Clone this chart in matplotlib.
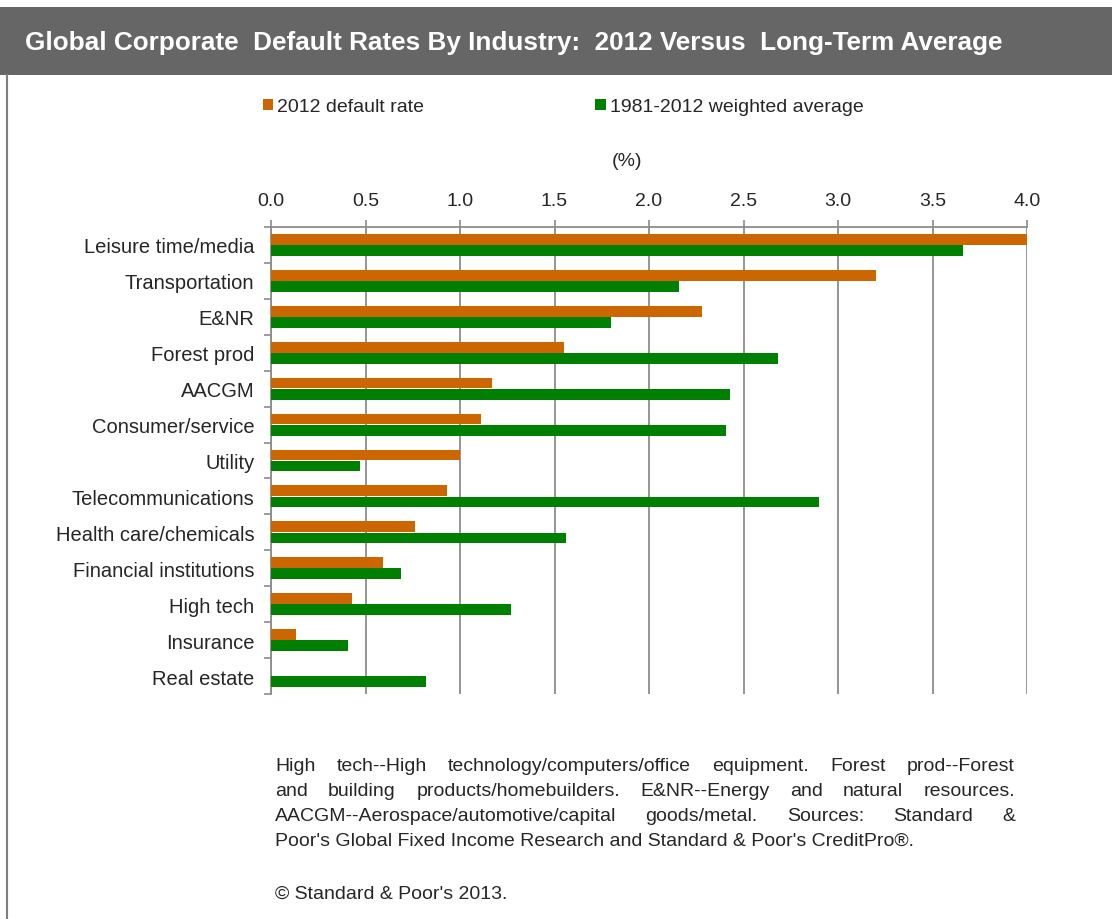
import numpy as np
import matplotlib
matplotlib.use("Agg")
import matplotlib.pyplot as plt
from matplotlib.patches import Rectangle
from matplotlib.lines import Line2D

plt.rcParams['font.family'] = ['Liberation Sans', 'DejaVu Sans']

# data
industries = ['Leisure time/media', 'Transportation', 'E&NR', 'Forest prod', 'AACGM',
              'Consumer/service', 'Utility', 'Telecommunications', 'Health care/chemicals',
              'Financial institutions', 'High tech', 'Insurance', 'Real estate']
rate_2012 = [4.00, 3.20, 2.28, 1.55, 1.17, 1.11, 1.00, 0.93, 0.76, 0.59, 0.43, 0.13, 0.0]
avg_1981_2012 = [3.66, 2.16, 1.80, 2.68, 2.43, 2.41, 0.47, 2.90, 1.56, 0.69, 1.27, 0.41, 0.82]
x_ticks = [0.0, 0.5, 1.0, 1.5, 2.0, 2.5, 3.0, 3.5, 4.0]

title = 'Global Corporate  Default Rates By Industry:  2012 Versus  Long-Term Average'
foot_lines = [
    "High tech--High technology/computers/office equipment. Forest prod--Forest",
    "and building products/homebuilders. E&NR--Energy and natural resources.",
    "AACGM--Aerospace/automotive/capital goods/metal. Sources: Standard &",
    "Poor's Global Fixed Income Research and Standard & Poor's CreditPro\u00ae.",
]

ORANGE = '#CC6600'
GREEN = '#008000'
TXT = '#262626'
W, H = 1112, 920

fig = plt.figure(figsize=(W / 100, H / 100), dpi=100)

# title band and frame
fig.patches.append(Rectangle((0, 1 - 76 / H), 1, 68 / H, transform=fig.transFigure,
                             facecolor='#666666', edgecolor='none'))
fig.lines.append(Line2D([7 / W, 7 / W], [0, 1 - 76 / H], transform=fig.transFigure,
                        color='#7f7f7f', lw=1.5))
fig.text(25 / W, 1 - 43 / H, title, color='white', fontsize=18.8, fontweight='bold',
         va='center', ha='left')

ax = fig.add_axes([271 / W, 1 - 695 / H, 756 / W, 467 / H])
y = np.arange(len(industries))
h = 0.30
ax.barh(y - 0.155, rate_2012, height=h, color=ORANGE, label='2012 default rate', zorder=3)
ax.barh(y + 0.155, avg_1981_2012, height=h, color=GREEN, label='1981-2012 weighted average', zorder=3)

ax.set_xlim(0, 4.0)
ax.set_ylim(len(industries) - 0.5, -0.5)
ax.xaxis.tick_top()
ax.set_xticks(x_ticks)
ax.set_xticklabels([f'{v:.1f}' for v in x_ticks])
ax.set_yticks(y)
ax.set_yticklabels(industries)
ax.set_yticks(np.arange(len(industries) + 1) - 0.5, minor=True)
ax.tick_params(axis='y', which='major', length=0, pad=12, labelsize=14.5, labelcolor=TXT)
ax.tick_params(axis='y', which='minor', length=5, color='#8c8c8c', width=1.2)
ax.tick_params(axis='x', which='major', length=5, color='#8c8c8c', width=1.2, pad=8,
               labelsize=14, labelcolor=TXT)
ax.grid(axis='x', color='#8c8c8c', lw=1.3, zorder=0)
for side in ['right', 'bottom']:
    ax.spines[side].set_visible(False)
for side in ['top', 'left']:
    ax.spines[side].set_color('#8c8c8c')
    ax.spines[side].set_linewidth(1.3)

fig.text(627 / W, 1 - 162 / H, '(%)', fontsize=14, color=TXT, ha='center', va='center')

# legend
handles, labels = ax.get_legend_handles_labels()
fig.legend(handles, labels, loc='center left', bbox_to_anchor=(245 / W, 1 - 108 / H),
           ncol=2, frameon=False, fontsize=14, handlelength=0.55, handleheight=0.55,
           handletextpad=0.2, columnspacing=8.8, labelcolor=TXT)

# justified footnote
fig.canvas.draw()
renderer = fig.canvas.get_renderer()
x0, x1 = 275 / W, 1015 / W
FS = 14
for i, line in enumerate(foot_lines):
    ypos = 1 - (771 + i * 25) / H
    words = line.split(' ')
    if i == len(foot_lines) - 1:
        fig.text(x0, ypos, line, fontsize=FS, color=TXT, va='baseline', ha='left')
        continue
    widths = []
    for wd in words:
        t = fig.text(0, 0, wd, fontsize=FS)
        widths.append(t.get_window_extent(renderer).width / W)
        t.remove()
    gap = (x1 - x0 - sum(widths)) / (len(words) - 1)
    xp = x0
    for wd, wdt in zip(words, widths):
        fig.text(xp, ypos, wd, fontsize=FS, color=TXT, va='baseline', ha='left')
        xp += wdt + gap

fig.text(x0, 1 - 899 / H, '\u00a9 Standard & Poor\'s 2013.', fontsize=FS, color=TXT,
         va='baseline', ha='left')

fig.savefig('out.png', dpi=100)
